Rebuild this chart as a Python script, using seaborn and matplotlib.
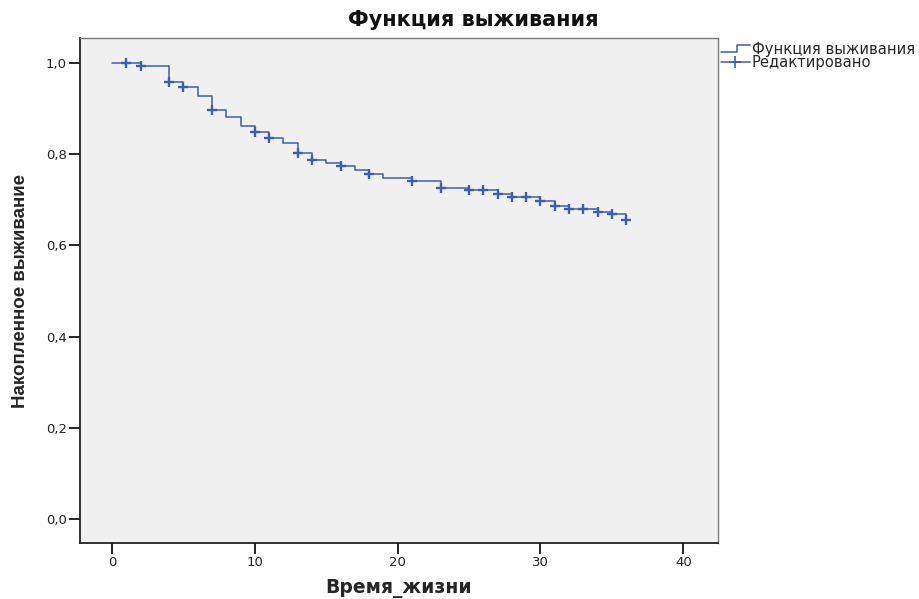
import matplotlib
matplotlib.use("Agg")
import matplotlib.pyplot as plt
import seaborn as sns
import numpy as np
import pandas as pd
from matplotlib.lines import Line2D
from matplotlib.legend_handler import HandlerBase

# step times and survival after each step
step_times = [0, 2, 4, 5, 6, 7, 8, 9, 10, 11, 12, 13, 14, 15, 16, 17, 18, 19,
              21, 23, 25, 27, 28, 30, 31, 32, 34, 35, 36]
survival = [1.000, 0.994, 0.958, 0.948, 0.927, 0.897, 0.882, 0.862, 0.848,
            0.836, 0.824, 0.802, 0.787, 0.780, 0.775, 0.765, 0.757, 0.747,
            0.742, 0.727, 0.721, 0.712, 0.707, 0.697, 0.686, 0.679, 0.674,
            0.668, 0.656]

# censored times
censor_times = [1, 2, 4, 5, 7, 10, 11, 13, 14, 16, 18, 21, 23, 25, 26, 27,
                28, 29, 30, 31, 32, 33, 34, 35, 36]

x_ticks = [0, 10, 20, 30, 40]
y_ticks = [0.0, 0.2, 0.4, 0.6, 0.8, 1.0]
y_tick_labels = ["0,0", "0,2", "0,4", "0,6", "0,8", "1,0"]

title = "Функция выживания"
x_label = "Время_жизни"
y_label = "Накопленное выживание"
legend_labels = ["Функция выживания", "Редактировано"]

line_color = "#3f5cb0"

sns.set_theme(style="white")
plt.rcParams['font.family'] = ['Liberation Sans', 'DejaVu Sans']

curve = pd.DataFrame({"t": step_times, "s": survival})
idx = np.searchsorted(step_times, censor_times, side="right") - 1
censored = pd.DataFrame({"t": censor_times, "s": np.array(survival)[idx]})

fig = plt.figure(figsize=(9.2, 5.99), dpi=100)
ax = fig.add_axes([0.087, 0.0935, 0.693, 0.843])
ax.set_facecolor("#f0f0f0")

sns.lineplot(data=curve, x="t", y="s", ax=ax, drawstyle="steps-post",
             color=line_color, linewidth=1.1, estimator=None, sort=False)
sns.scatterplot(data=censored, x="t", y="s", ax=ax, marker="+", s=48,
                linewidth=1.7, color=line_color, zorder=3)

ax.set_xlim(-2.24, 42.4)
ax.set_ylim(-0.053, 1.055)
ax.set_xticks(x_ticks)
ax.set_yticks(y_ticks)
ax.set_yticklabels(y_tick_labels)
ax.tick_params(axis="both", direction="out", length=8, width=1.2,
               color="black", labelsize=10, labelcolor="#222222", pad=1.5,
               bottom=True, left=True)
for lab in ax.get_xticklabels() + ax.get_yticklabels():
    lab.set_family(['DejaVu Sans'])
    lab.set_fontsize(9.5)

# title sits centred on the whole picture, not on the axes
fig.text(0.514, 0.966, title, ha="center", va="center", fontsize=15,
         fontweight="bold", family=['DejaVu Sans'], color="#111111")
ax.set_xlabel(x_label, fontsize=13.5, fontweight="bold", labelpad=7,
              family=['DejaVu Sans'])
ax.set_ylabel(y_label, fontsize=13.5, fontweight="bold", labelpad=12)

for side in ["left", "bottom"]:
    ax.spines[side].set_color("#222222")
    ax.spines[side].set_linewidth(1.3)
for side in ["top", "right"]:
    ax.spines[side].set_color("#7a7a7a")
    ax.spines[side].set_linewidth(1.0)


class StepHandler(HandlerBase):
    def create_artists(self, legend, orig_handle, xdescent, ydescent,
                       width, height, fontsize, trans):
        x0 = -xdescent
        mid = x0 + width * 0.55
        y_low = -ydescent + height * 0.2
        y_high = -ydescent + height * 0.85
        line = Line2D([x0, mid, mid, x0 + width], [y_low, y_low, y_high, y_high],
                      color=orig_handle.get_color(), linewidth=1.1)
        line.set_transform(trans)
        return [line]


h_step = Line2D([], [], color=line_color)
h_cens = Line2D([], [], color=line_color, marker="+", markersize=9,
                markeredgewidth=1.2, linewidth=1.1)
fig.legend([h_step, h_cens], legend_labels, loc="upper left",
           bbox_to_anchor=(0.769, 0.952), frameon=False,
           prop={"family": ["DejaVu Sans"], "size": 10.6},
           handlelength=2.0, handletextpad=0.1, labelspacing=-0.12,
           handler_map={h_step: StepHandler()})

fig.savefig("out.png", dpi=100)
